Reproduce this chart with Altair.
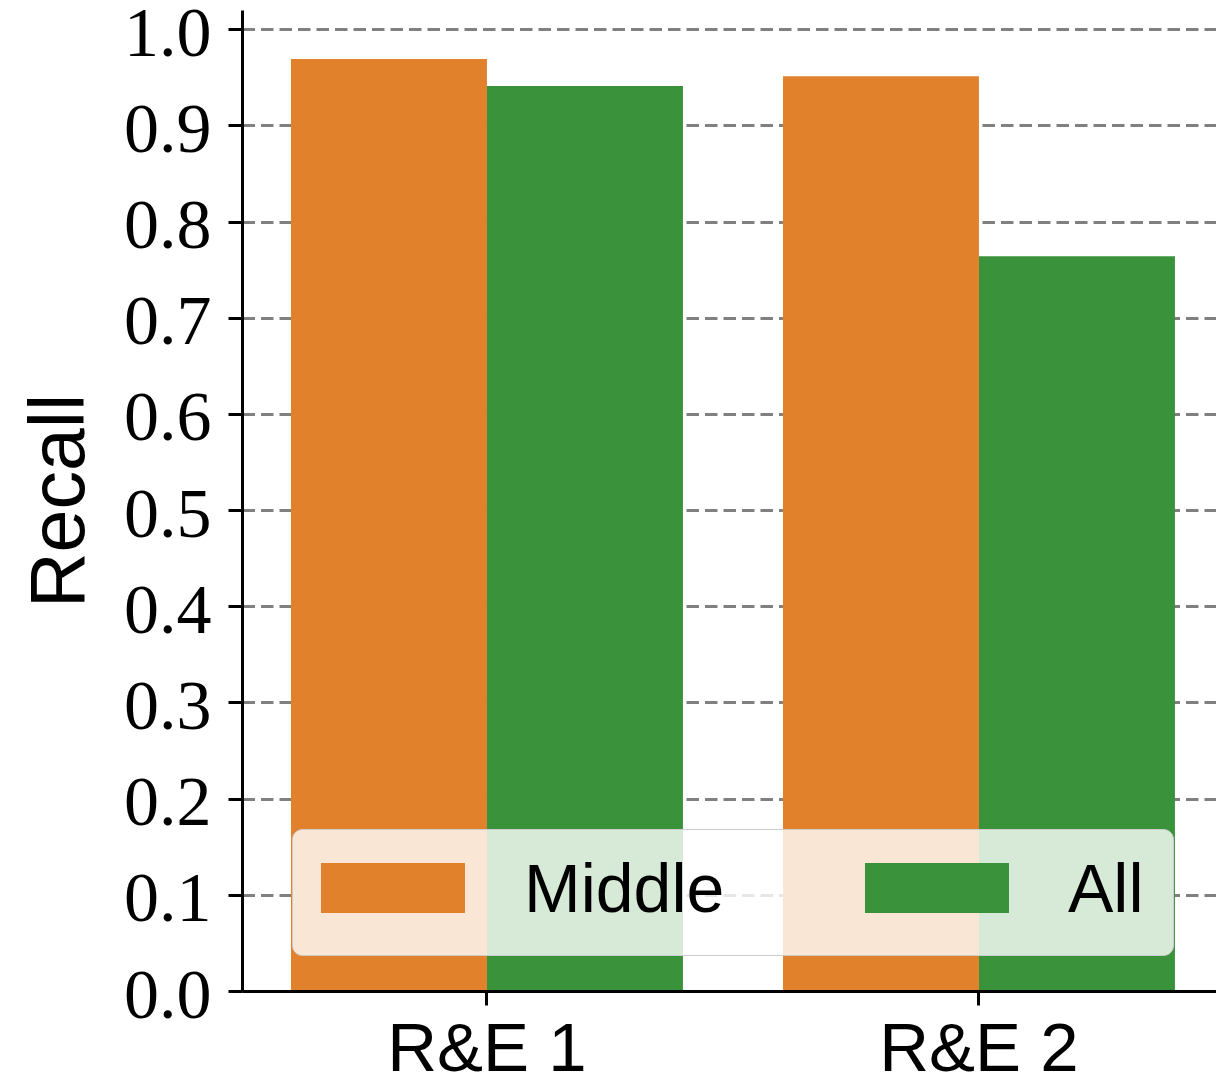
import altair as alt
import pandas as pd

categories = ["R&E 1", "R&E 2"]
series = ["Middle", "All"]
middle_vals = [0.969, 0.951]
all_vals = [0.941, 0.764]
colors = ["#e1812c", "#3a923a"]
y_ticks = [0.0, 0.1, 0.2, 0.3, 0.4, 0.5, 0.6, 0.7, 0.8, 0.9, 1.0]

rows = []
for i, c in enumerate(categories):
    rows.append({"group": c, "series": "Middle", "recall": middle_vals[i]})
    rows.append({"group": c, "series": "All", "recall": all_vals[i]})
df = pd.DataFrame(rows)

# flat swatch: 50px tall, 144px wide
swatch = "M-1.36,-1.16L4.4,-1.16L4.4,0.84L-1.36,0.84Z"

chart = alt.Chart(df).mark_bar().encode(
    x=alt.X(
        "group:N",
        sort=categories,
        scale=alt.Scale(paddingInner=0.2033, paddingOuter=0.0915, align=0.544),
        axis=alt.Axis(
            title=None, labelAngle=0, labelFont="Liberation Sans", labelFontSize=69,
            labelColor="black", labelLimit=0, domainColor="black", domainWidth=3,
            tickColor="black", tickWidth=3, tickSize=14, labelPadding=10, zindex=1,
        ),
    ),
    xOffset=alt.XOffset("series:N", sort=series),
    y=alt.Y(
        "recall:Q",
        scale=alt.Scale(domain=[0, 1.02], nice=False, zero=True),
        axis=alt.Axis(
            title="Recall", values=y_ticks, format=".1f",
            labelFont="Liberation Serif", labelFontSize=70, labelColor="black",
            labelPadding=17, labelOffset=5, domainColor="black", domainWidth=3,
            tickColor="black", tickWidth=3, tickSize=14,
            grid=True, gridColor="#808080", gridDash=[12.5, 6], gridWidth=3,
            titleFont="Liberation Sans", titleFontSize=77, titleFontWeight="normal",
            titleColor="black", titlePadding=24,
        ),
    ),
    color=alt.Color(
        "series:N",
        sort=series,
        scale=alt.Scale(domain=series, range=colors),
        legend=alt.Legend(
            title=None, orient="none", legendX=50, legendY=819,
            direction="horizontal", columns=2,
            symbolType=swatch, symbolSize=2500, symbolStrokeWidth=0, symbolOpacity=1,
            labelFont="Liberation Sans", labelFontSize=68, labelColor="black",
            labelOffset=135, columnPadding=140, padding=29, labelLimit=0,
            fillColor="rgba(255,255,255,0.8)", strokeColor="#cccccc", cornerRadius=10,
        ),
    ),
).properties(
    width=974,
    height=981,
    autosize=alt.AutoSizeParams(type="none"),
    padding={"left": 234, "top": 2, "right": 0, "bottom": 88},
).configure_view(stroke=None)

chart.save("out.html", embed_options={"renderer": "svg", "actions": False})
